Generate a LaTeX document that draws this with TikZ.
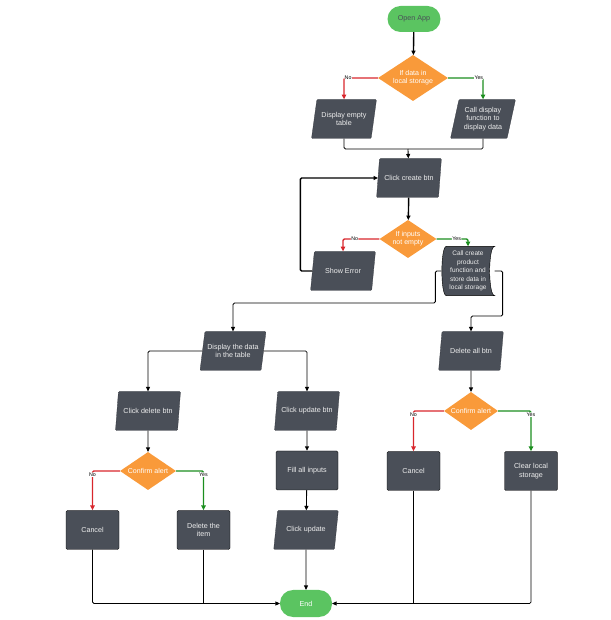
\documentclass[tikz,border=0pt]{standalone}
\usepackage{fontspec}
\setmainfont{Liberation Sans}
\usetikzlibrary{shapes.geometric, arrows.meta, positioning, backgrounds}
\definecolor{fcdark}{HTML}{4A4F58}
\definecolor{fcorange}{HTML}{F99A3A}
\definecolor{fcgreen}{HTML}{5BC461}
\definecolor{fcred}{HTML}{D8262C}
\definecolor{fcyes}{HTML}{1B8E1E}
\definecolor{fctext}{HTML}{EEEEEE}

\begin{document}
\begin{tikzpicture}[
    io/.style={trapezium, trapezium left angle=75, trapezium right angle=105, trapezium stretches=true, fill=fcdark, draw=fcdark!70!black, rounded corners=1.5pt, minimum width=3.25cm, minimum height=1.95cm, text=fctext, align=center, font=\fontsize{10.2}{12}\selectfont},
    proc/.style={rectangle, fill=fcdark, draw=black, line width=0.6pt, rounded corners=2pt, minimum width=#1, minimum height=1.95cm, text=fctext, align=center, font=\fontsize{10.2}{12}\selectfont},
    proc/.default=2.65cm,
    decide/.style={diamond, aspect=1.5, fill=fcorange, inner sep=0pt, text=white, align=center, font=\fontsize{10}{11.5}\selectfont},
    term/.style={rectangle, fill=fcgreen, rounded corners=0.65cm, minimum width=2.65cm, minimum height=1.3cm, text=fcdark, font=\fontsize{10.2}{12}\selectfont},
    lbl/.style={font=\fontsize{7.5}{8}\selectfont, fill=white, inner sep=0.6pt, text=black},
    arrow/.style={-{Triangle[length=2.2mm, width=2mm]}, line width=1.2pt, rounded corners=2pt, color=black},
    link/.style={line width=1.2pt, rounded corners=2pt, color=black},
    noarrow/.style={-{Triangle[length=2.4mm, width=2.2mm]}, line width=2pt, rounded corners=2pt, color=fcred},
    yesarrow/.style={-{Triangle[length=2.4mm, width=2.2mm]}, line width=2pt, rounded corners=2pt, color=fcyes}
]
\useasboundingbox (0,0) rectangle (30.5,31);

% Start and first check
\node[term] (open) at (20.7,30.05) {Open App};
\node[decide, minimum width=3.5cm, minimum height=2.3cm] (dataq) at (20.65,27.1) {If data in\\local storage};
\node[io] (empty) at (17.2,25.05) {Display empty\\table};
\node[io] (calldisp) at (24.15,25.05) {Call display\\function to\\display data};

% Create product
\node[io] (create) at (20.45,22.1) {Click create btn};
\node[decide, minimum width=2.85cm, minimum height=1.9cm] (inq) at (20.4,19.05) {If inputs\\not empty};
\node[io] (showerr) at (17.15,17.45) {Show Error};
\node[minimum width=2.65cm, minimum height=2.45cm, text=fctext, align=center, inner sep=0pt, font=\fontsize{9.3}{12.2}\selectfont] (store) at (23.4,17.45) {Call create\\product\\function and\\store data in\\local storage};

% Table branch
\node[io] (display) at (11.65,13.45) {Display the data\\in the table};
\node[io] (deletebtn) at (7.4,10.45) {Click delete btn};
\node[io] (updatebtn) at (15.35,10.45) {Click update btn};
\node[decide, minimum width=2.8cm, minimum height=1.9cm] (conf1) at (7.4,7.45) {Confirm alert};
\node[proc] (cancel1) at (4.625,4.5) {Cancel};
\node[proc] (delitem) at (10.175,4.5) {Delete the\\item};
\node[proc=3.1cm] (fill) at (15.35,7.475) {Fill all inputs};
\node[io] (clickupd) at (15.3,4.5) {Click update};

% Delete all branch
\node[io] (deleteall) at (23.55,13.45) {Delete all btn};
\node[decide, minimum width=2.7cm, minimum height=1.9cm] (conf2) at (23.55,10.45) {Confirm alert};
\node[proc] (cancel2) at (20.675,7.45) {Cancel};
\node[proc] (clear) at (26.55,7.45) {Clear local\\storage};

% End
\node[term, minimum width=2.6cm, minimum height=1.35cm, text=white] (end) at (15.3,0.825) {End};

% Stored data shape
\begin{scope}[on background layer]
\filldraw[fill=fcdark, draw=black, line width=0.6pt]
    ([xshift=0.25cm]store.north west) .. controls ([xshift=-0.05cm]store.north west) and ([xshift=-0.05cm]store.south west) .. ([xshift=0.25cm]store.south west)
    -- (store.south east) .. controls ([xshift=-0.33cm]store.south east) and ([xshift=-0.33cm]store.north east) .. (store.north east) -- cycle;
\end{scope}

% Connectors
\coordinate (join1) at (20.4,23.55);
\draw[arrow, line width=2pt] (open) -- (dataq);
\draw[noarrow] (dataq.west) -| node[lbl, pos=0.44] {No} (empty.north);
\draw[yesarrow] (dataq.east) -| node[lbl, pos=0.44] {Yes} (calldisp.north);
\draw[link] (empty.south) |- (join1) -| (calldisp.south);
\draw[arrow] (join1) -- (create);
\draw[arrow, line width=2pt] (create) -- (inq);
\draw[noarrow] (inq.west) -| node[lbl, pos=0.34] {No} (showerr.north);
\draw[yesarrow] (inq.east) -| node[lbl, pos=0.32] {Yes} (store.north);
\draw[arrow, line width=2pt] (showerr.west) -- ++(-0.6,0) |- (create.west);
\draw[arrow] (store.west) -- ++(-0.3,0) -- ++(0,-1.6) -| (display.north);
\draw[arrow] (store.east) -- ++(0.4,0) -- ++(0,-2.25) -| (deleteall.north);

\draw[arrow] (display.west) -| (deletebtn.north);
\draw[arrow] (display.east) -| (updatebtn.north);
\draw[arrow] (deletebtn) -- (conf1);
\draw[noarrow] (conf1.west) -| node[lbl, pos=0.5, anchor=north, yshift=-1pt] {No} (cancel1.north);
\draw[yesarrow] (conf1.east) -| node[lbl, pos=0.5, anchor=north, yshift=-1pt] {Yes} (delitem.north);
\draw[arrow] (updatebtn) -- (fill);
\draw[arrow] (fill) -- (clickupd);
\draw[arrow] (clickupd) -- (end);

\draw[arrow] (deleteall) -- (conf2);
\draw[noarrow] (conf2.west) -| node[lbl, pos=0.5, anchor=north, yshift=-1pt] {No} (cancel2.north);
\draw[yesarrow] (conf2.east) -| node[lbl, pos=0.5, anchor=north, yshift=-1pt] {Yes} (clear.north);

\draw[arrow] (cancel1.south) |- (end.west);
\draw[link] (delitem.south) -- (delitem.south |- end.west);
\draw[arrow] (clear.south) |- (end.east);
\draw[link] (cancel2.south) -- (cancel2.south |- end.east);

\end{tikzpicture}
\end{document}
